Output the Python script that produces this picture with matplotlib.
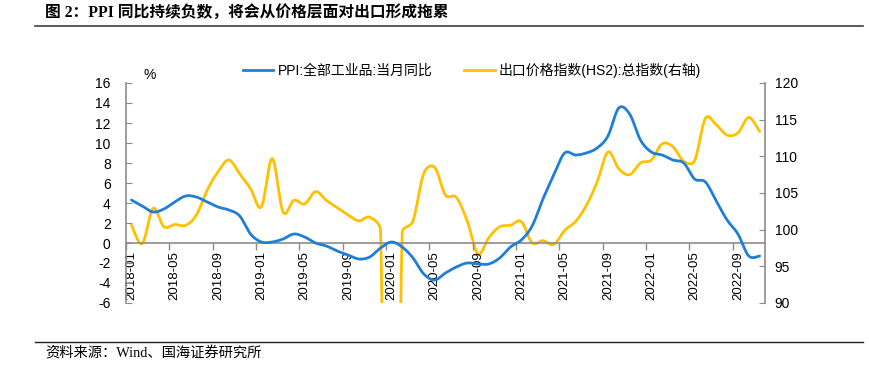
import numpy as np
import matplotlib
matplotlib.use('Agg')
import matplotlib.pyplot as plt
from matplotlib.lines import Line2D

# 数据（月度，2018-01 至 2022-11）
months = [f'{y}-{m:02d}' for y in range(2018, 2023) for m in range(1, 13)][:59]

ppi = [4.3, 3.7, 3.1, 3.4, 4.1, 4.7, 4.6, 4.1, 3.6, 3.3, 2.7, 0.9,
       0.1, 0.1, 0.4, 0.9, 0.6, 0.0, -0.3, -0.8, -1.2, -1.6, -1.4, -0.5,
       0.1, -0.4, -1.5, -3.1, -3.7, -3.0, -2.4, -2.0, -2.1, -2.1, -1.5, -0.4,
       0.3, 1.7, 4.4, 6.8, 9.0, 8.8, 9.0, 9.5, 10.7, 13.5, 12.9, 10.3,
       9.1, 8.8, 8.3, 8.0, 6.4, 6.1, 4.2, 2.3, 0.9, -1.3, -1.3]

export_px = [100.6, 98.1, 102.9, 100.4, 100.7, 100.6, 102.0, 105.4, 107.9, 109.5, 107.6, 105.6,
             103.1, 109.7, 102.4, 104.0, 103.5, 105.2, 104.0, 103.0, 102.0, 101.2, 101.7, 99.8,
             0.0, 99.5, 101.2, 107.7, 108.5, 104.7, 104.4, 101.2, 96.7, 98.9, 100.4, 100.6,
             101.1, 98.2, 98.5, 98.0, 99.9, 101.1, 103.3, 106.5, 110.6, 108.3, 107.5, 109.1,
             109.5, 111.7, 111.3, 109.3, 109.4, 115.2, 114.3, 112.9, 113.2, 115.3, 113.4]

label_step = 4


def smooth(x, y, sx, sy, n=20, cap=0.5):
    # 类似 Excel 平滑线：贝塞尔曲线，控制点长度按线段长度封顶
    P = np.column_stack([np.asarray(x, float) * sx, np.asarray(y, float) * sy])
    P = np.vstack([P[0], P, P[-1]])
    t = np.linspace(0, 1, n)[:, None]
    pts = []
    for i in range(1, len(P) - 2):
        p0, p1, p2, p3 = P[i - 1], P[i], P[i + 1], P[i + 2]
        seg = np.linalg.norm(p2 - p1)
        d1 = (p2 - p0) / 6
        d2 = (p3 - p1) / 6
        for d in (d1, d2):
            L = np.linalg.norm(d)
            if L > cap * seg:
                d *= cap * seg / L
        c1, c2 = p1 + d1, p2 - d2
        b = ((1 - t) ** 3) * p1 + 3 * ((1 - t) ** 2) * t * c1 + 3 * (1 - t) * t ** 2 * c2 + t ** 3 * p2
        pts.append(b if i == 1 else b[1:])
    pts = np.vstack(pts)
    return pts[:, 0] / sx, pts[:, 1] / sy


cjk = ['Liberation Sans', 'Noto Sans CJK SC']
serif_cjk = ['Liberation Serif', 'Noto Sans CJK SC']
plt.rcParams['font.family'] = cjk
plt.rcParams['axes.unicode_minus'] = False

blue = '#1f7fd8'
yellow = '#ffc000'
grey = '#8c8c8c'

fig = plt.figure(figsize=(8.69, 3.75), dpi=100)
ax = fig.add_axes([126 / 869, 1 - 303 / 375, (765 - 126) / 869, 220 / 375])
ax2 = ax.twinx()

x = np.arange(len(months))
bx, by = smooth(x, ppi, 10.83, 10.0)
ax.plot(bx, by, color=blue, lw=2.0, solid_capstyle='round', zorder=3)
yx, yy = smooth(x, export_px, 10.83, 7.33)
ax2.plot(yx, yy, color=yellow, lw=2.0, solid_capstyle='round', zorder=3)

ax.set_xlim(-0.5, len(months) - 0.5)
ax.set_ylim(-6, 16)
ax.set_yticks(np.arange(-6, 17, 2))
ax2.set_ylim(90, 120)
ax2.set_yticks(np.arange(90, 121, 5))

ax.set_xticks(x[::label_step])
ax.set_xticklabels(months[::label_step])
ax.set_xticks(np.arange(-0.5, len(months) - 3, label_step), minor=True)
ax.tick_params(axis='x', which='major', length=0, pad=6, labelsize=9.5, labelrotation=90)
ax.tick_params(axis='x', which='minor', length=5, direction='out', color=grey, width=1)
for lab in ax.get_xticklabels():
    lab.set_va('top')

for a in (ax, ax2):
    for s in a.spines.values():
        s.set_color(grey)
        s.set_linewidth(1.2)
    a.spines['top'].set_visible(False)
ax.spines['bottom'].set_position(('data', 0))
ax2.spines['bottom'].set_visible(False)
ax.spines['right'].set_visible(False)
ax2.spines['left'].set_visible(False)
ax.tick_params(axis='y', direction='in', length=4, color=grey, pad=11, labelsize=10)
ax2.tick_params(axis='y', direction='in', length=4, color=grey, pad=7, labelsize=10)
ax.set_zorder(ax2.get_zorder() + 1)
ax.patch.set_visible(False)

fig.text(150 / 869, 1 - 75 / 375, '%', fontsize=10, ha='center', va='center')

handles = [Line2D([], [], color=blue, lw=2.0), Line2D([], [], color=yellow, lw=2.0)]
fig.legend(handles, ['PPI:全部工业品:当月同比', '出口价格指数(HS2):总指数(右轴)'],
           loc='center', bbox_to_anchor=(472 / 869, 1 - 70 / 375), ncol=2, frameon=False,
           fontsize=10, handlelength=2.2, handletextpad=0.3, columnspacing=2.3)

fig.text(45 / 869, 1 - 13 / 375, '图 2：PPI 同比持续负数，将会从价格层面对出口形成拖累',
         fontsize=11.3, fontweight='bold', family=serif_cjk, ha='left', va='center')
fig.add_artist(Line2D([35 / 869, 863 / 869], [1 - 26 / 375] * 2, color='#404040', lw=1.2))
fig.add_artist(Line2D([35 / 869, 863 / 869], [1 - 341.5 / 375] * 2, color='#202020', lw=1.0))
fig.text(45 / 869, 1 - 354 / 375, '资料来源：Wind、国海证券研究所',
         fontsize=10.3, family=serif_cjk, ha='left', va='center')

fig.savefig('out.png', dpi=100)
